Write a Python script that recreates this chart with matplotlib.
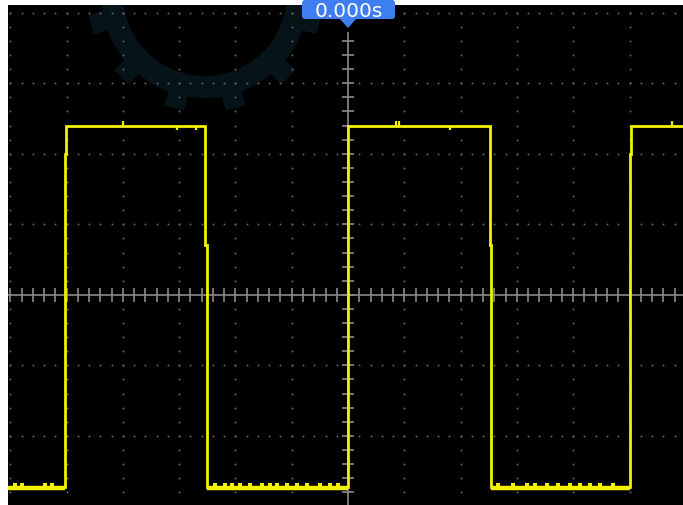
import matplotlib
matplotlib.use("Agg")
import matplotlib.pyplot as plt
import numpy as np
from matplotlib.patches import Rectangle, Wedge, FancyBboxPatch, Polygon
import matplotlib.transforms as mtransforms

# --- waveform (time in divisions, volts in divisions) ---
high = 2.40
low = -2.73
trace_t = [-6.10, -5.035, -5.035, -5.01, -5.01, -2.54, -2.54, -2.513, -2.513,
           0.0, 0.0, 2.513, 2.513, 2.54, 2.54, 5.01, 5.01, 5.035, 5.035, 6.10]
trace_v = [low, low, 2.0, 2.0, high, high, 0.71, 0.71, low,
           low, high, high, 0.71, 0.71, low, low, 2.0, 2.0, high, high]

# small glitches on the flat parts
high_up = [-4.00, 0.85, 0.91, 5.75]
high_down = [-3.04, -2.70, 1.81]
low_bumps = [-5.91, -5.79, -5.38, -5.26,
             -2.36, -2.18, -2.06, -1.92, -1.74, -1.53, -1.39, -1.26, -1.08,
             -0.91, -0.73, -0.50, -0.32, -0.18,
             2.66, 2.93, 3.18, 3.32, 3.53, 3.73, 3.94, 4.12, 4.30, 4.48, 4.71]

time_label = "0.000s"

W, H = 683, 506
fig = plt.figure(figsize=(W / 100, H / 100), dpi=100, facecolor="white")

# background layer in pixel coordinates: screen + faint watermark gear
bg = fig.add_axes([0, 0, 1, 1])
bg.set_xlim(0, W)
bg.set_ylim(H, 0)
bg.axis("off")
screen = Rectangle((8, 6), 675, 500, facecolor="black", edgecolor="none")
bg.add_patch(screen)
gear_col = "#061419"
ring = Wedge((205, -5), 104, 0, 360, width=22, facecolor=gear_col, edgecolor="none")
bg.add_patch(ring)
ring.set_clip_path(screen)
for ang in np.arange(15, 375, 30):
    tooth = Rectangle((-10, 98), 20, 20, facecolor=gear_col, edgecolor="none")
    tooth.set_transform(mtransforms.Affine2D().rotate_deg(ang).translate(205, -5) + bg.transData)
    bg.add_patch(tooth)
    tooth.set_clip_path(screen)

# scope graticule + trace in division units
ax = fig.add_axes([8 / W, 0, 675 / W, 500 / H], facecolor="none")
ax.set_xlim(-6.04, 5.95)
ax.set_ylim(-2.98, 4.11)
ax.axis("off")

dot_col = "#6e6e6e"
xs_fine = np.arange(-6.0, 6.01, 0.2)
ys_fine = np.arange(-3.0, 4.01, 0.2)
for gy in range(-3, 5):
    if gy == 0:
        continue
    ax.plot(xs_fine, np.full_like(xs_fine, gy), ls="none", marker="s",
            ms=1.2, mew=0, color=dot_col)
for gx in range(-6, 7):
    if gx == 0:
        continue
    ax.plot(np.full_like(ys_fine, gx), ys_fine, ls="none", marker="s",
            ms=1.2, mew=0, color=dot_col)

axis_col = "#8a8a8a"
ax.axhline(0, color=axis_col, lw=1.2)
ax.plot([0, 0], [-3.0, 3.72], color=axis_col, lw=1.2)
hx = np.arange(-6.0, 6.01, 0.2)
ax.vlines(hx, -0.1, 0.1, color=axis_col, lw=1.2)
vy = np.arange(-2.8, 3.61, 0.2)
ax.hlines(vy, -0.107, 0.107, color=axis_col, lw=1.2)

yellow = "#f2f200"
ax.plot(low_bumps, np.full(len(low_bumps), low + 0.04), ls="none", marker="s",
        ms=2.2, mew=0, color=yellow)
ax.plot(trace_t, trace_v, color=yellow, lw=2.0, solid_joinstyle="miter")
# thicker band on the low level
for a, b in [(-6.10, -5.035), (-2.513, 0.0), (2.54, 5.01)]:
    ax.plot([a, b], [low - 0.01, low - 0.01], color=yellow, lw=3.2, solid_capstyle="butt")
ax.vlines(high_up, high, high + 0.06, color=yellow, lw=1.6)
ax.vlines(high_down, high - 0.06, high, color=yellow, lw=1.6)

# trigger time marker on top
top = fig.add_axes([0, 0, 1, 1], facecolor="none")
top.set_xlim(0, W)
top.set_ylim(H, 0)
top.axis("off")
blue = "#3f7ef0"
top.add_patch(FancyBboxPatch((302, 1), 93, 19, boxstyle="round,pad=0,rounding_size=3",
                             facecolor=blue, edgecolor="none"))
top.add_patch(Polygon([[339, 19], [357, 19], [348, 29]], closed=True,
                      facecolor=blue, edgecolor="none"))
top.text(349, 11, time_label, color="white", fontsize=14.5, ha="center", va="center")

fig.savefig("out.png", dpi=100, facecolor="white")
